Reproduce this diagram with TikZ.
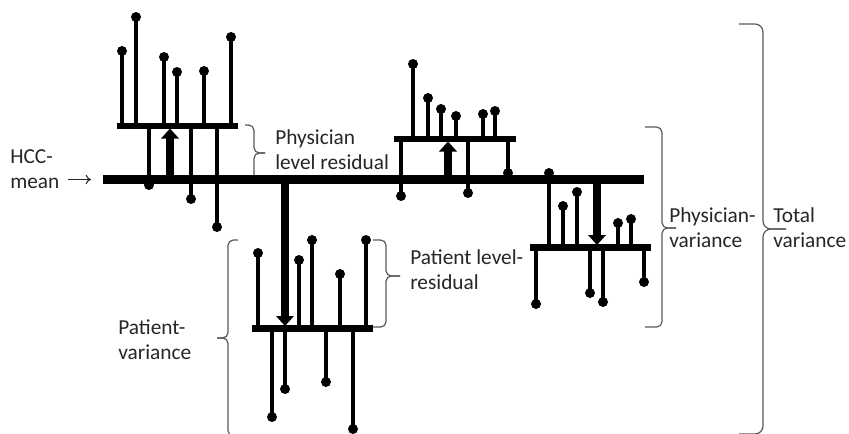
\documentclass[tikz,border=0pt]{standalone}
\usepackage{fontspec}
\setmainfont{Carlito}
\usetikzlibrary{arrows.meta, calc}

\begin{document}
\begin{tikzpicture}[x=0.75pt, y=-0.75pt,
  mainbar/.style={line width=6.75pt},
  levelbar/.style={line width=5pt},
  stem/.style={line width=2.4pt},
  shiftarrow/.style={line width=6pt, -{Triangle[length=7.5pt, width=13pt]}},
  brc/.style={draw=black!65, line width=0.9pt, rounded corners=4pt},
  lbl/.style={font=\fontsize{16}{18.75}\selectfont, text=black!85, anchor=west, align=left, inner sep=0pt}]
  \useasboundingbox (0,0) rectangle (849,433);

  % Braces
  \draw[brc] (245,125) -- (254,125) -- (254,153) -- (265,153);
  \draw[brc] (265,153) -- (254,153) -- (254,181) -- (245,181);
  \draw[brc] (373,240) -- (386,240) -- (386,276) -- (400,276);
  \draw[brc] (400,276) -- (386,276) -- (386,327) -- (373,327);
  \draw[brc] (238,240) -- (228,240) -- (228,338) -- (217,338);
  \draw[brc] (217,338) -- (228,338) -- (228,436) -- (238,436);
  \draw[brc] (645,127) -- (662,127) -- (662,228) -- (676,228);
  \draw[brc] (676,228) -- (662,228) -- (662,327) -- (645,327);
  \draw[brc, rounded corners=6pt] (739,24) -- (763,24) -- (763,229) -- (786,229);
  \draw[brc, rounded corners=6pt] (786,229) -- (763,229) -- (763,434) -- (739,434);

  % Labels
  \node[lbl] (hcc) at (10,169) {HCC-\\mean};
  \node[lbl] (physres) at (275,150) {Physician\\level residual};
  \node[lbl] (patres) at (410,270) {Patient level-\\residual};
  \node[lbl] (patvar) at (118,340) {Patient-\\variance};
  \node[lbl] (physvar) at (669,228) {Physician-\\variance};
  \node[lbl] (totvar) at (773,228) {Total\\variance};

  % HCC mean line
  \coordinate (mainL) at (103,179.5);
  \coordinate (mainR) at (644,179.5);
  \coordinate (hccin) at (68,179.5);
  \draw[line width=0.8pt, black!85, -{To[length=4pt, width=7pt]}, shorten >=9pt] (hccin) -- (mainL);

  % Physician 1 (upper left)
  \draw[levelbar] (117,126) -- (238,126);
  \foreach \x/\y in {122/51, 136/17, 164/57, 177/72, 204/71, 231/37, 149/185, 191/199, 217/227}
    {\draw[stem] (\x,126) -- (\x,\y); \fill (\x,\y) circle (3.75pt);}

  % Physician 2 (upper middle)
  \draw[levelbar] (394,139) -- (516,139);
  \foreach \x/\y in {413/64, 428/98, 441/109, 456/116, 483/114, 495/111, 401/196, 468/193, 508/173}
    {\draw[stem] (\x,139) -- (\x,\y); \fill (\x,\y) circle (3.75pt);}

  % Physician 3 (right)
  \draw[levelbar] (530,247.5) -- (651,247.5);
  \foreach \x/\y in {549/173, 563/206, 577/192, 618/223, 631/219, 536/304, 590/293, 603/302, 644/282}
    {\draw[stem] (\x,247.5) -- (\x,\y); \fill (\x,\y) circle (3.75pt);}

  % Physician 4 (bottom)
  \draw[levelbar] (252,328.5) -- (373,328.5);
  \foreach \x/\y in {258/253, 299/260, 312/240, 340/274, 366/240, 272/417, 285/389, 326/382, 353/429}
    {\draw[stem] (\x,328.5) -- (\x,\y); \fill (\x,\y) circle (3.75pt);}

  % Mean line
  \draw[mainbar] (mainL) -- (mainR);

  % Shifts from the mean
  \coordinate (m1) at (170,179.5);  \coordinate (b1) at (170,128.5);
  \coordinate (m2) at (448,179.5);  \coordinate (b2) at (448,141.5);
  \coordinate (m3) at (597,179.5);  \coordinate (b3) at (597,245);
  \coordinate (m4) at (285,179.5);  \coordinate (b4) at (285,326);
  \draw[shiftarrow] (m1) -- (b1);
  \draw[shiftarrow] (m2) -- (b2);
  \draw[shiftarrow] (m3) -- (b3);
  \draw[shiftarrow] (m4) -- (b4);
\end{tikzpicture}
\end{document}
